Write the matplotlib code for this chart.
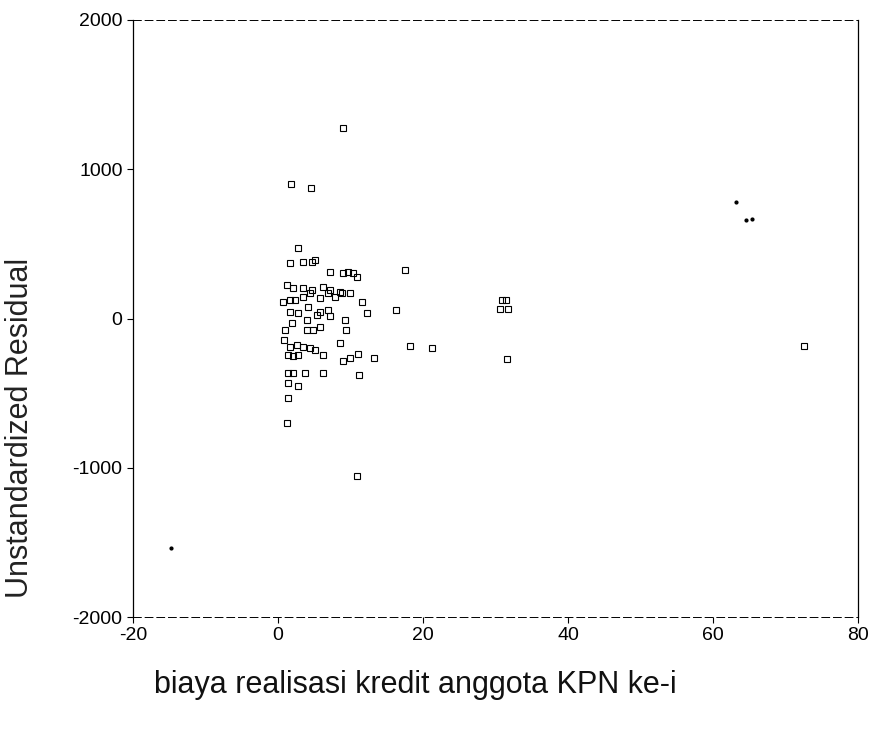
import matplotlib
matplotlib.use("Agg")
import matplotlib.pyplot as plt

plt.rcParams['font.family'] = ['Liberation Sans', 'DejaVu Sans']
plt.rcParams['axes.unicode_minus'] = False

# x: biaya realisasi kredit, y: unstandardized residual
x_vals = [2.76, 1.66, 3.45, 4.69, 5.10, 7.17, 8.97, 9.66, 10.34, 10.90,
          1.24, 2.07, 3.45, 4.69, 6.21, 7.17, 8.55,
          0.69, 1.66, 2.34, 3.45, 4.41, 5.79, 6.90, 7.86, 8.83, 9.93, 11.59,
          1.66, 2.76, 4.14, 5.38, 5.79, 6.90, 12.28,
          4.00, 1.93, 7.17, 9.24,
          0.97, 4.00, 4.83, 5.79, 9.38,
          0.83, 1.66, 2.62, 3.45, 4.41, 5.10, 8.55,
          1.38, 2.07, 2.76, 6.21, 11.03, 9.93, 8.97, 13.24,
          1.38, 2.07, 3.72, 6.21, 11.17,
          1.38, 2.76, 1.38, 1.24,
          8.97, 1.79, 4.55, 17.5, 16.3, 30.9, 31.4, 30.6, 31.7,
          18.2, 21.2, 31.6, 10.9, 72.6]
y_vals = [472, 372, 379, 379, 392, 312, 305, 312, 305, 278,
          224, 204, 204, 191, 211, 191, 178,
          111, 124, 124, 144, 171, 137, 171, 144, 171, 171, 111,
          44, 37, 77, 23, 44, 57, 37,
          -10, -30, 17, -10,
          -77, -77, -77, -57, -77,
          -144, -191, -178, -191, -198, -211, -164,
          -245, -251, -245, -245, -238, -265, -285, -265,
          -365, -365, -365, -365, -379,
          -432, -452, -533, -700,
          1276, 901, 874, 325, 57, 124, 124, 64, 64,
          -184, -198, -271, -1055, -184]

# small specks visible in the scanned chart
speck_x = [63.2, 64.6, 65.4, -14.8]
speck_y = [780, 660, 667, -1538]

x_ticks = [-20, 0, 20, 40, 60, 80]
y_ticks = [-2000, -1000, 0, 1000, 2000]

fig = plt.figure(figsize=(8.9, 7.33), dpi=100)
ax = fig.add_axes([133/890, 1 - 617/733, (858 - 133)/890, (617 - 20)/733])

ax.plot(x_vals, y_vals, linestyle='none', marker='s', markersize=5,
        markerfacecolor='none', markeredgecolor='black', markeredgewidth=0.8)
ax.plot(speck_x, speck_y, linestyle='none', marker='o', markersize=2,
        color='black')

ax.set_xlim(-20, 80)
ax.set_ylim(-2000, 2000)
ax.set_xticks(x_ticks)
ax.set_yticks(y_ticks)
ax.tick_params(axis='both', direction='out', length=4, width=0.8,
               labelsize=14, colors='black')

for side in ['left', 'right']:
    ax.spines[side].set_linewidth(0.9)
for side in ['top', 'bottom']:
    ax.spines[side].set_linewidth(0.7)
    ax.spines[side].set_linestyle((0, (8, 4)))

fig.text(20/890, 1 - 428/733, 'Unstandardized Residual', rotation=90,
         fontsize=22, ha='center', va='center', color='#222222')
fig.text(415/890, 1 - 685/733, 'biaya realisasi kredit anggota KPN ke-i',
         fontsize=22, ha='center', va='center', color='#111111')

fig.savefig('out.png', dpi=100)
